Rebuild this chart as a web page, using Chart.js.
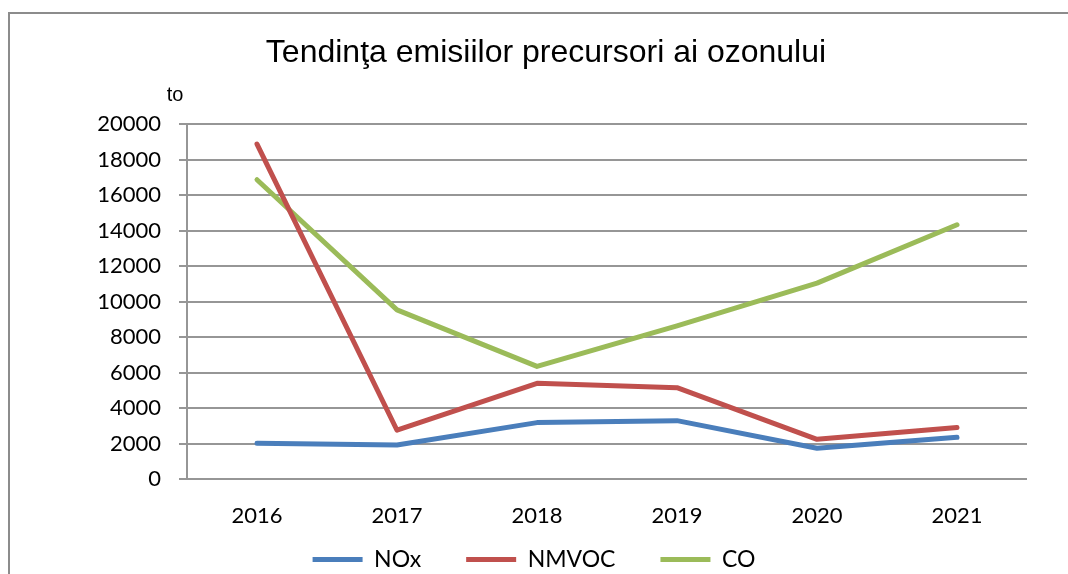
<!DOCTYPE html>
<html>
<head>
<meta charset="utf-8">
<script src="https://cdn.jsdelivr.net/npm/chart.js@4/dist/chart.umd.min.js"></script>
<style>
  html, body { margin: 0; padding: 0; background: #fff; }
  #wrap { position: relative; width: 1068px; height: 574px; overflow: hidden; }
  #frame { position: absolute; left: 8px; top: 12px; width: 1200px; height: 700px;
           border-left: 2px solid #8c8c8c; border-top: 2px solid #8c8c8c; pointer-events: none; }
  canvas { position: absolute; left: 0; top: 0; }
</style>
</head>
<body>
<div id="wrap">
  <canvas id="c" width="1068" height="574"></canvas>
  <div id="frame"></div>
</div>
<script>
const titleText = 'Tendinţa emisiilor precursori ai ozonului';
const yUnit = 'to';
const years = ['2016', '2017', '2018', '2019', '2020', '2021'];
const noxValues   = [2020, 1920, 3180, 3290, 1730, 2350];
const nmvocValues = [18890, 2750, 5400, 5150, 2240, 2900];
const coValues    = [16880, 9540, 6350, 8640, 11050, 14340];
const seriesNames = ['NOx', 'NMVOC', 'CO'];
const seriesColors = ['#4A7EBB', '#C0504D', '#9BBB59'];
const yMin = 0, yMax = 20000, yStep = 2000;

Chart.defaults.font.family = 'Lato';
Chart.defaults.color = '#000';

const extras = {
  id: 'extras',
  afterLayout(chart) {
    const t = chart.titleBlock;
    if (t) { t.left += 12; t.right += 12; }
  },
  afterDraw(chart) {
    const ctx = chart.ctx;
    const a = chart.chartArea;
    ctx.save();
    ctx.font = '20px "Liberation Sans"';
    ctx.fillStyle = '#000';
    ctx.textAlign = 'center';
    ctx.textBaseline = 'middle';
    ctx.fillText(yUnit, a.left - 12, a.top - 29);
    ctx.restore();
  }
};

const mk = (i, data) => ({
  label: seriesNames[i],
  data: data,
  borderColor: seriesColors[i],
  backgroundColor: seriesColors[i],
  borderWidth: 5,
  borderCapStyle: 'round',
  borderJoinStyle: 'round',
  pointRadius: 0,
  pointHoverRadius: 0,
  tension: 0,
  fill: false
});

new Chart(document.getElementById('c'), {
  type: 'line',
  data: {
    labels: years,
    datasets: [mk(0, noxValues), mk(1, nmvocValues), mk(2, coValues)]
  },
  options: {
    responsive: false,
    animation: false,
    events: [],
    layout: { padding: { left: 0, right: 0, top: 0, bottom: -7 } },
    plugins: {
      title: {
        display: true,
        text: titleText,
        color: '#000',
        font: { family: '"Liberation Sans"', size: 32, weight: 'normal', lineHeight: 1.2 },
        padding: { top: 34, bottom: 52 }
      },
      legend: {
        position: 'bottom',
        labels: {
          usePointStyle: true,
          pointStyle: 'line',
          pointStyleWidth: 50,
          color: '#000',
          font: { family: 'Lato', size: 23 },
          padding: 45
        }
      },
      tooltip: { enabled: false }
    },
    scales: {
      x: {
        offset: true,
        grid: { display: false, drawTicks: false },
        border: { display: false },
        ticks: { font: { family: 'Lato', size: 22 }, color: '#000', mirror: true, padding: -50, maxRotation: 0, autoSkip: false },
        afterFit(s) { s.height = 24; }
      },
      y: {
        min: yMin, max: yMax,
        ticks: { stepSize: yStep, font: { family: 'Lato', size: 22 }, color: '#000', padding: 18,
                 callback: (v) => String(v) },
        grid: { color: '#969696', lineWidth: 2, tickLength: 8, drawTicks: true },
        border: { display: true, color: '#969696', width: 2 },
        afterFit(s) { s.width = 187; }
      },
      yR: {
        type: 'linear',
        position: 'right',
        display: true,
        ticks: { display: false },
        grid: { display: false, drawTicks: false },
        border: { display: false },
        afterFit(s) { s.width = 41; }
      }
    }
  },
  plugins: [extras]
});
</script>
</body>
</html>
